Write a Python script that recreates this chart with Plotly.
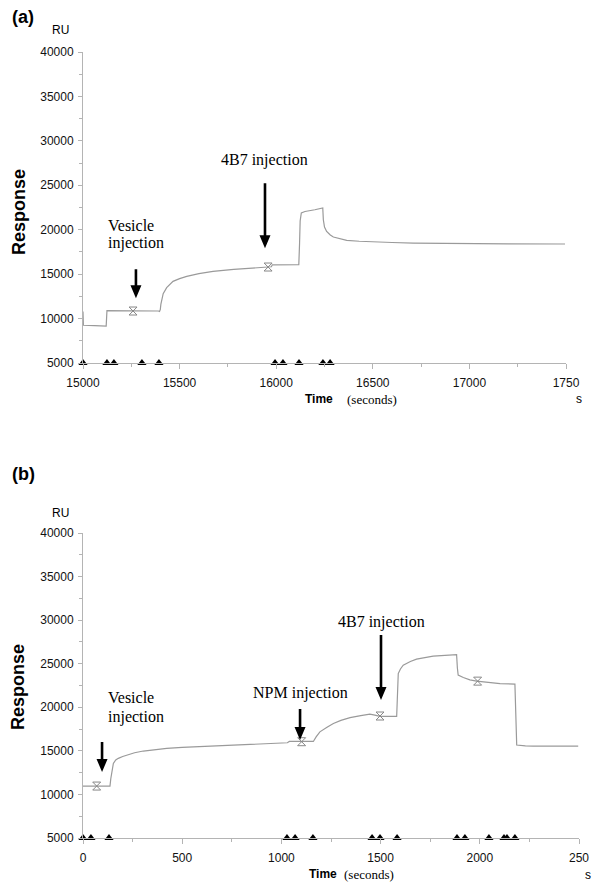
import plotly.graph_objects as go

# ---------------- data: panel (a) ----------------
time_a = [15000, 15002, 15060, 15120, 15124, 15200, 15300, 15390, 15396, 15400, 15403, 15407,
          15415, 15433, 15466, 15500, 15537, 15600, 15673, 15780, 15880, 15951, 15975, 15980,
          16117, 16121, 16124, 16130, 16149, 16200, 16241, 16244, 16250, 16261, 16280, 16296,
          16330, 16365, 16430, 16503, 16600, 16710, 16850, 16986, 17200, 17495]
resp_a = [10800, 9250, 9200, 9150, 10900, 10900, 10880, 10850, 10800, 11000, 11600, 12130,
          12800, 13480, 14190, 14500, 14750, 15050, 15310, 15530, 15700, 15800, 15830, 16050,
          16080, 18500, 21000, 21900, 22050, 22250, 22440, 21120, 20300, 19810, 19400, 19180,
          18950, 18800, 18700, 18620, 18560, 18500, 18460, 18430, 18410, 18390]
marks_a_t = [15259, 15958]
marks_a_v = [10850, 15800]
tri_a = [15000, 15124, 15160, 15305, 15393, 15994, 16035, 16118, 16242, 16279]
xt_a_vals = [15000, 15500, 16000, 16500, 17000, 17500]
xt_a_text = ["15000", "15500", "16000", "16500", "17000", "1750"]
xt_a_minor = [15250, 15750, 16250, 16750, 17250]

# ---------------- data: panel (b) ----------------
time_b = [0, 136, 140, 145, 153, 165, 178, 200, 220, 260, 304, 360, 422, 500, 590, 756, 900,
          1030, 1040, 1161, 1175, 1194, 1230, 1262, 1300, 1346, 1400, 1446, 1471, 1497, 1581,
          1585, 1589, 1600, 1614, 1650, 1681, 1765, 1883, 1887, 1891, 1917, 1950, 1984, 2050,
          2102, 2177, 2182, 2186, 2230, 2270, 2496]
resp_b = [10960, 10960, 11800, 12700, 13560, 13950, 14140, 14350, 14520, 14780, 14980, 15150,
          15290, 15390, 15470, 15670, 15800, 15930, 16080, 16080, 16600, 17180, 17700, 18140,
          18500, 18820, 19050, 19220, 19100, 18950, 18950, 22000, 23870, 24400, 24840, 25250,
          25530, 25870, 26050, 24500, 23700, 23420, 23150, 23000, 22820, 22720, 22660, 19000,
          15670, 15580, 15550, 15550]
marks_b_t = [69, 1102, 1497, 1989]
marks_b_v = [10960, 16050, 19000, 23000]
tri_b = [0, 40, 131, 1028, 1069, 1159, 1457, 1497, 1583, 1885, 1925, 2046, 2122, 2137, 2177]
xt_b_vals = [0, 500, 1000, 1500, 2000, 2500]
xt_b_text = ["0", "500", "1000", "1500", "2000", "250"]
xt_b_minor = [250, 750, 1250, 1750, 2250]

y_vals = [5000, 10000, 15000, 20000, 25000, 30000, 35000, 40000]
y_text = ["5000", "10000", "15000", "20000", "25000", "30000", "35000", "40000"]
y_minor = [7500, 12500, 17500, 22500, 27500, 32500, 37500]

# arrows: (x, tip y, length in px)
arrows_a = [(15274, 12300, 29), (15942, 17920, 65)]
arrows_b = [(96, 12570, 30), (1094, 16240, 31), (1502, 20830, 65)]

# page body has an 8px margin: figure sized to fill the rest of the window
OFF = 8
W, H = 600 - OFF, 890 - OFF
def px(x): return (x - OFF) / W
def py(y): return 1 - (y - OFF) / H

LINE = "#9a9a9a"
AX = "#b4b4b4"
SANS = "Liberation Sans, Arial, sans-serif"
SERIF = "Liberation Serif, Times New Roman, serif"

fig = go.Figure()

def add_panel(t, v, mt, mv, tri, xa, ya):
    fig.add_trace(go.Scatter(x=t, y=v, mode="lines", line=dict(color=LINE, width=1.2),
                             xaxis=xa, yaxis=ya, showlegend=False, hoverinfo="skip"))
    fig.add_trace(go.Scatter(x=mt, y=mv, mode="markers",
                             marker=dict(symbol="hourglass-open", size=8, color="#888",
                                         line=dict(width=1, color="#888")),
                             xaxis=xa, yaxis=ya, showlegend=False, hoverinfo="skip"))
    fig.add_trace(go.Scatter(x=tri, y=[5000] * len(tri), mode="markers",
                             marker=dict(symbol="triangle-up", size=8, color="black"),
                             cliponaxis=False, xaxis=xa, yaxis=ya, showlegend=False,
                             hoverinfo="skip"))

add_panel(time_a, resp_a, marks_a_t, marks_a_v, tri_a, "x", "y")
add_panel(time_b, resp_b, marks_b_t, marks_b_v, tri_b, "x2", "y2")

def xaxis(dom, rng, vals, text, minor, anchor):
    return dict(domain=dom, range=rng, tickmode="array", tickvals=vals, ticktext=text,
                showline=True, linecolor=AX, linewidth=1, ticks="outside", ticklen=5,
                tickcolor=AX, showgrid=False, zeroline=False, anchor=anchor, automargin=False,
                tickfont=dict(family=SANS, size=12, color="#111"), ticklabelstandoff=4,
                minor=dict(tickvals=minor, ticks="outside", ticklen=3, tickcolor=AX))

def yaxis(dom, anchor):
    return dict(domain=dom, range=[5000, 40000], tickmode="array", tickvals=y_vals,
                ticktext=y_text,
                showline=True, linecolor=AX, linewidth=1, ticks="outside", ticklen=4,
                tickcolor=AX, showgrid=False, zeroline=False, anchor=anchor, automargin=False,
                tickfont=dict(family=SANS, size=12, color="#111"), ticklabelstandoff=2,
                minor=dict(tickvals=y_minor, ticks="outside", ticklen=3, tickcolor=AX))

fig.update_layout(
    width=W, height=H, margin=dict(l=0, r=0, t=0, b=0, autoexpand=False),
    paper_bgcolor="white", plot_bgcolor="white",
    xaxis=xaxis([px(83), px(566)], [15000, 17500], xt_a_vals, xt_a_text, xt_a_minor, "y"),
    yaxis=yaxis([py(363), py(52)], "x"),
    xaxis2=xaxis([px(83), px(579)], [0, 2500], xt_b_vals, xt_b_text, xt_b_minor, "y2"),
    yaxis2=yaxis([py(838), py(533)], "x2"),
)

# arrows drawn as pixel-sized path shapes anchored at the tip
HW, HL, SW = 5.5, 13, 1.3
shapes = []
def arrow(xr, yr, x, y, length):
    path = (f"M0,0 L{-HW},{HL} L{-SW},{HL} L{-SW},{length} L{SW},{length} "
            f"L{SW},{HL} L{HW},{HL} Z")
    shapes.append(dict(type="path", xref=xr, yref=yr, xsizemode="pixel", ysizemode="pixel",
                       xanchor=x, yanchor=y, path=path, fillcolor="black",
                       line=dict(width=0), layer="above"))
for (x, y, L) in arrows_a:
    arrow("x", "y", x, y, L)
for (x, y, L) in arrows_b:
    arrow("x2", "y2", x, y, L)

ann = []
def txt(x, y, s, size, family, bold=False, xanchor="center", angle=0):
    ann.append(dict(x=px(x), y=py(y), xref="paper", yref="paper", text=f"<b>{s}</b>" if bold else s,
                    showarrow=False, xanchor=xanchor, yanchor="middle", textangle=angle,
                    font=dict(family=family, size=size, color="black")))

# panel (a) labels
txt(10, 17, "(a)", 18, SANS, bold=True, xanchor="left")
txt(60, 30, "RU", 12, SANS)
txt(19, 212, "Response", 18, SANS, bold=True, angle=-90)
txt(106, 225, "Vesicle", 16, SERIF, xanchor="left")
txt(106, 243, "injection", 16, SERIF, xanchor="left")
txt(264, 160, "4B7 injection", 16, SERIF)
txt(303, 399, "Time", 12, SANS, bold=True, xanchor="left")
txt(345, 399, "(seconds)", 13, SERIF, xanchor="left")
txt(579, 399, "s", 12, SANS)

# panel (b) labels
txt(10, 474, "(b)", 18, SANS, bold=True, xanchor="left")
txt(60, 513, "RU", 12, SANS)
txt(18, 687, "Response", 18, SANS, bold=True, angle=-90)
txt(106, 697, "Vesicle", 16, SERIF, xanchor="left")
txt(106, 717, "injection", 16, SERIF, xanchor="left")
txt(300, 693, "NPM injection", 16, SERIF)
txt(381, 622, "4B7 injection", 16, SERIF)
txt(307, 874, "Time", 12, SANS, bold=True, xanchor="left")
txt(342, 874, "(seconds)", 13, SERIF, xanchor="left")
txt(588, 875, "s", 12, SANS)

fig.update_layout(annotations=ann, shapes=shapes)
fig.write_html("out.html")
